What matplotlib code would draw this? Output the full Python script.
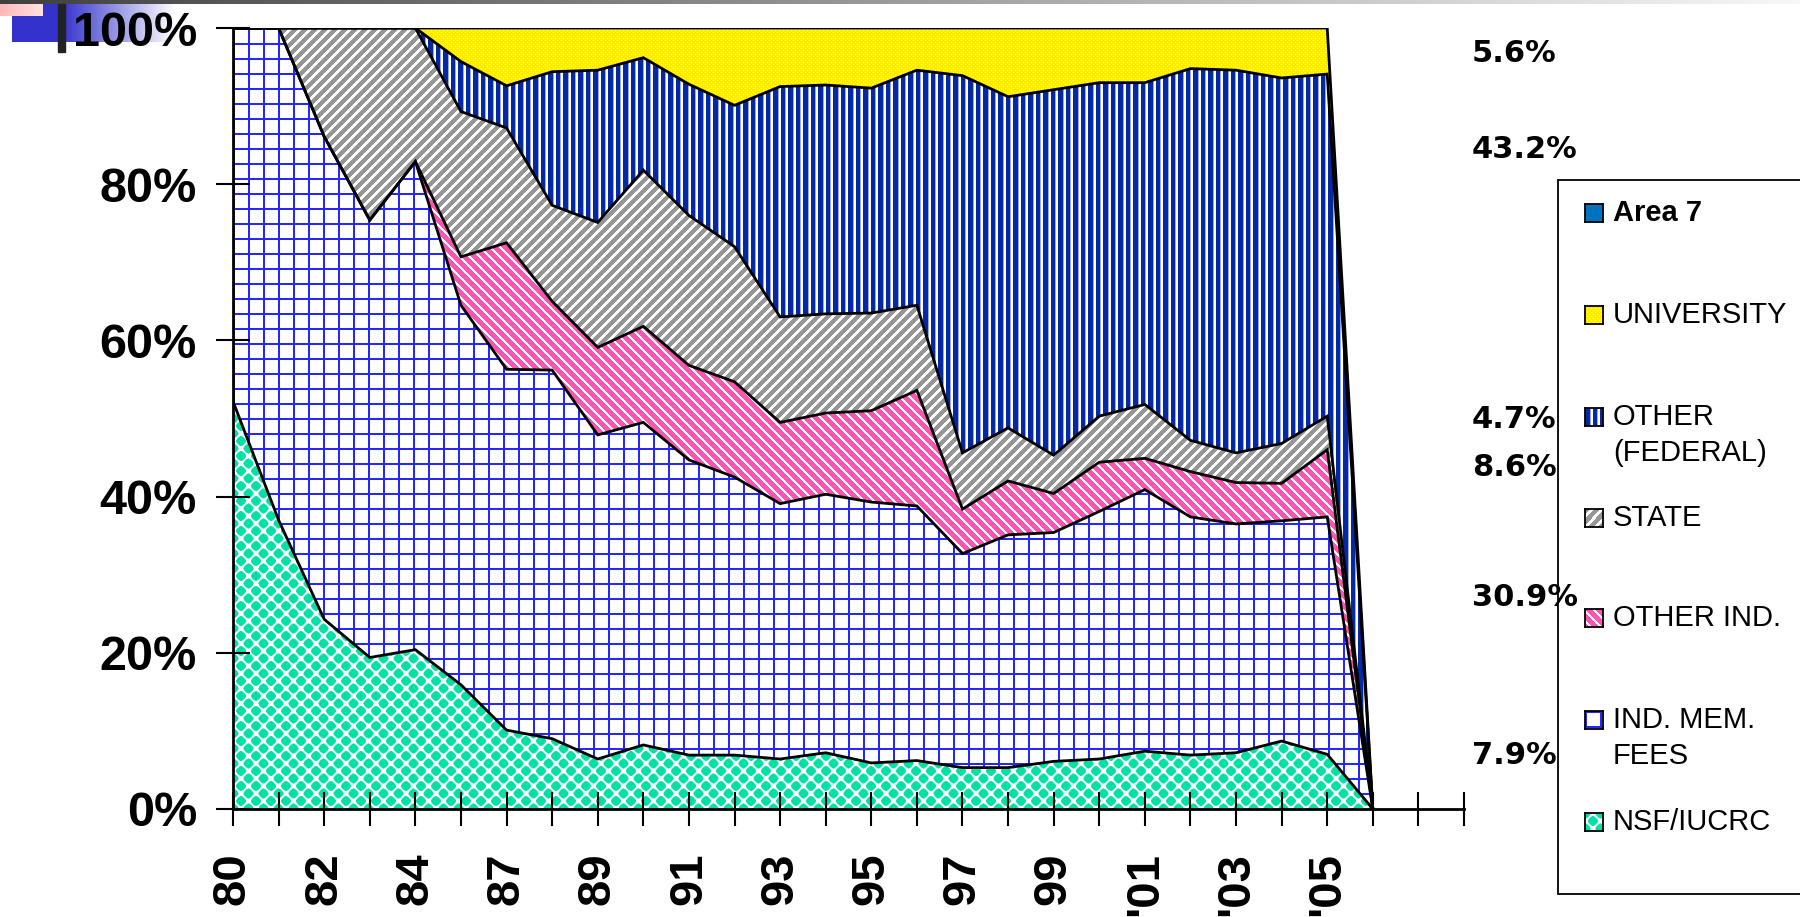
import matplotlib.pyplot as plt
import numpy as np
from matplotlib.patches import Rectangle

plt.rcParams['font.family'] = ['Liberation Sans', 'DejaVu Sans']

# categories (every second one is labelled on the axis)
years = ['80', '81', '82', '83', '84', '86', '87', '88', '89', '90', '91', '92', '93',
         '94', '95', '96', '97', '98', '99', "'00", "'01", "'02", "'03", "'04", "'05", "'06"]
n_slots = 28   # axis has two more empty slots after the data

# shares in percent
nsf = [52.2, 37.0, 24.3, 19.4, 20.4, 15.9, 10.1, 9.0, 6.4, 8.2, 6.9, 6.9, 6.4,
       7.2, 5.9, 6.2, 5.3, 5.3, 6.1, 6.4, 7.4, 6.9, 7.2, 8.7, 7.0, 0]
fees = [47.8, 63.0, 61.8, 56.0, 62.5, 48.6, 46.2, 47.2, 41.5, 41.3, 37.8, 35.6, 32.7,
        33.1, 33.4, 32.6, 27.4, 29.8, 29.3, 31.7, 33.5, 30.5, 29.3, 28.2, 30.4, 0]
other_ind = [0, 0, 0, 0, 0, 6.2, 16.2, 8.8, 11.2, 12.3, 12.1, 12.2, 10.4,
             10.4, 11.7, 14.8, 5.7, 6.9, 5.0, 6.3, 4.0, 5.8, 5.3, 4.8, 8.6, 0]
state = [0, 0, 13.9, 24.6, 17.1, 18.6, 14.7, 12.3, 16.0, 20.0, 19.2, 17.3, 13.5,
         12.7, 12.5, 10.9, 7.2, 6.8, 4.9, 5.9, 6.9, 4.0, 3.8, 5.1, 4.3, 0]
other_fed = [0, 0, 0, 0, 0, 6.4, 5.4, 17.1, 19.5, 14.4, 16.8, 18.1, 29.5,
             29.3, 28.8, 30.1, 48.3, 42.4, 46.8, 42.7, 41.2, 47.6, 49.0, 46.8, 43.8, 0]
university = [0, 0, 0, 0, 0, 4.3, 7.4, 5.6, 5.4, 3.8, 7.2, 9.9, 7.5,
              7.3, 7.7, 5.4, 6.1, 8.8, 7.9, 7.0, 7.0, 5.2, 5.4, 6.4, 5.9, 0]
area7 = [0] * 26

side_notes = ['5.6%', '43.2%', '4.7%', '8.6%', '30.9%', '7.9%']
legend_names = ['Area 7', 'UNIVERSITY', 'OTHER\n(FEDERAL)', 'STATE',
                'OTHER IND.', 'IND. MEM.\nFEES', 'NSF/IUCRC']
legend_kinds = ['solid', 'dots', 'vstripes', 'fdiag', 'bdiag', 'grid', 'diamonds']


def texture(kind, h, w):
    yy, xx = np.mgrid[0:h, 0:w]
    img = np.ones((h, w, 3))
    if kind == 'diamonds':
        p = 15.0
        def dist(ox, oy):
            a = np.abs(((xx + ox) % p) - p / 2)
            b = np.abs(((yy + oy) % p) - p / 2)
            return (a ** 1.4 + b ** 1.4) ** (1 / 1.4)
        d = np.minimum(dist(0, 0), dist(p / 2, p / 2))
        cover = np.clip(5.6 - d, 0, 1)[..., None]
        img = img * (1 - cover) + np.array([0, 0.89, 0.65]) * cover
    elif kind == 'grid':
        img[((xx % 15) < 2) | ((yy % 15) < 2)] = (0.15, 0.15, 1.0)
    elif kind == 'vstripes':
        img[(xx % 7.5) < 4.2] = (0.02, 0.16, 0.64)
        img[((xx % 7.5) >= 4.2) & ((xx % 7.5) < 5.2)] = (0.6, 0.65, 0.9)
    elif kind == 'fdiag':
        img[((xx + yy) % 10) < 6] = (0.59, 0.59, 0.59)
    elif kind == 'bdiag':
        img[((xx - yy) % 10) < 6.5] = (1.0, 0.33, 0.7)
    elif kind == 'dots':
        img[:] = (1.0, 0.93, 0.0)
        img[((xx % 4) == 0) & ((yy % 4) == 0)] = (1.0, 1.0, 0.6)
        img[((xx % 4) == 2) & ((yy % 4) == 2)] = (1.0, 1.0, 0.6)
    else:
        img[:] = (0.0, 0.45, 0.75)
    return img


fig = plt.figure(figsize=(18, 9.17), dpi=100)
W, H = 1800, 917

# slide decoration in the top left corner
deco = fig.add_axes([0, 0, 1, 1], zorder=-1)
deco.set_xlim(0, W)
deco.set_ylim(H, 0)
deco.axis('off')
bar = np.linspace(0.25, 0.97, 400)[None, :, None] * np.ones((1, 1, 3))
deco.imshow(bar, extent=[0, W, 4, 0], aspect='auto')
fade = np.clip((np.linspace(0, 1, 200) - 0.3) / 0.7, 0, 1)
blue = np.stack([0.2 + 0.8 * fade, 0.2 + 0.8 * fade, 0.8 + 0.2 * fade], axis=1)[None, :, :]
deco.imshow(blue, extent=[12, 175, 42, 4], aspect='auto')
pink = np.stack([np.ones(50), np.linspace(0.72, 0.88, 50), np.linspace(0.72, 0.88, 50)], axis=1)[None, :, :]
deco.imshow(pink, extent=[0, 43, 16, 4], aspect='auto')
deco.add_patch(Rectangle((58, 4), 7, 48, color='#222222'))

# main chart
ax = fig.add_axes([233 / W, 1 - 809 / H, 1231 / W, 781 / H])
ax.set_facecolor('none')
x = np.arange(len(years))
layers = [nsf, fees, other_ind, state, other_fed, university]
kinds = ['diamonds', 'grid', 'bdiag', 'fdiag', 'vstripes', 'dots']
ph, pw = 781, 1231
lower = np.zeros(len(years))
tops = []
for vals, kind in zip(layers, kinds):
    upper = lower + np.array(vals)
    poly = ax.fill_between(x, lower, upper, facecolor='none', linewidth=0)
    im = ax.imshow(texture(kind, ph, pw), extent=[0, n_slots - 1, 0, 100],
                   aspect='auto', interpolation='nearest', zorder=1)
    im.set_clip_path(poly.get_paths()[0], transform=ax.transData)
    tops.append(upper)
    lower = upper
for upper in tops:
    ax.plot(x, upper, color='black', lw=2, zorder=3, solid_joinstyle='miter')

ax.set_xlim(0, n_slots - 1)
ax.set_ylim(0, 100)
for s in ['top', 'right']:
    ax.spines[s].set_visible(False)
for s in ['left', 'bottom']:
    ax.spines[s].set_linewidth(2)
    ax.spines[s].set_zorder(4)

ax.set_yticks(range(0, 101, 20))
ax.set_yticklabels([f'{v}%' for v in range(0, 101, 20)], fontsize=35, fontweight='bold')
ax.set_xticks(range(n_slots))
xlabels = [years[i] if (i < len(years) and i % 2 == 0) else '' for i in range(n_slots)]
ax.set_xticklabels(xlabels, rotation=90, fontsize=34, fontweight='bold')
ax.tick_params(axis='both', direction='inout', length=24, width=1.5, color='black')
ax.tick_params(axis='y', pad=14)
ax.tick_params(axis='x', pad=19)

# legend box
fig.patches.append(Rectangle((1558 / W, 1 - 894 / H), 260 / W, 714 / H,
                             transform=fig.transFigure, facecolor='white',
                             edgecolor='black', lw=1.3, zorder=1))
entry_y = [213, 315, 417, 518, 618, 720, 822]
for name, kind, yc in zip(legend_names, legend_kinds, entry_y):
    mk = fig.add_axes([1585 / W, 1 - (yc + 9) / H, 18 / W, 18 / H], zorder=3)
    mk.imshow(texture(kind, 18, 18), aspect='auto', interpolation='nearest')
    mk.set_xticks([])
    mk.set_yticks([])
    for s in mk.spines.values():
        s.set_linewidth(1.3)
    weight = 'bold' if name == 'Area 7' else 'normal'
    for k, line in enumerate(name.split('\n')):
        fig.text(1613 / W, 1 - (yc + 36 * k) / H, line, fontsize=21,
                 fontweight=weight, va='center', ha='left', zorder=4)

# shares noted at the right of the plot
note_y = [54, 149, 420, 468, 597, 756]
for txt, yc in zip(side_notes, note_y):
    fig.text(1472 / W, 1 - yc / H, txt, fontsize=22, fontweight='bold',
             family='DejaVu Sans', va='center', ha='left', zorder=5)

fig.savefig('out.png', dpi=100)
